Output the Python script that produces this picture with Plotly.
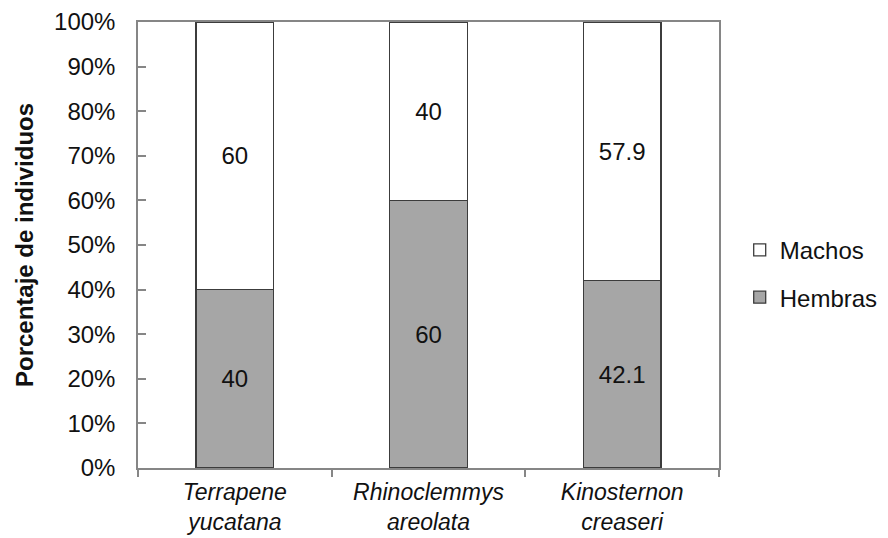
import plotly.graph_objects as go

# Sex ratio (%) per turtle species
species = ["<i>Terrapene<br>yucatana</i>", "<i>Rhinoclemmys<br>areolata</i>", "<i>Kinosternon<br>creaseri</i>"]
hembras = [40, 60, 42.1]
machos = [60, 40, 57.9]
y_ticks = list(range(0, 101, 10))

FONT = "Liberation Sans, Arial, sans-serif"
AXIS_GRAY = "#868686"
EDGE = "#3c3c3c"
FS = 24

fig = go.Figure()
fig.add_trace(go.Bar(
    x=species, y=hembras, name="Hembras", legendgroup="h", legendrank=2,
    marker=dict(color="#a6a6a6", line=dict(color=EDGE, width=1.3)),
    text=[f"{v:g}" for v in hembras], textposition="inside",
    insidetextanchor="middle", textangle=0,
    textfont=dict(size=FS, color="#111111", family=FONT),
))
fig.add_trace(go.Bar(
    x=species, y=machos, name="Machos", legendgroup="m", legendrank=1,
    marker=dict(color="#ffffff", line=dict(color=EDGE, width=1.3)),
    text=[f"{v:g}" for v in machos], textposition="inside",
    insidetextanchor="middle", textangle=0,
    textfont=dict(size=FS, color="#111111", family=FONT),
))

fig.update_layout(
    width=888, height=538,
    margin=dict(l=138, r=169, t=22, b=70),
    barmode="stack", bargap=0.6,
    paper_bgcolor="white", plot_bgcolor="white",
    font=dict(family=FONT, size=FS, color="#111111"),
    legend=dict(
        xref="container", yref="container",
        x=0.833, xanchor="left", y=0.491, yanchor="middle",
        traceorder="grouped", tracegroupgap=13,
        font=dict(size=FS, color="#111111", family=FONT),
        bgcolor="rgba(0,0,0,0)",
    ),
    showlegend=True,
)
fig.update_xaxes(
    automargin=False,
    showline=True, linecolor=AXIS_GRAY, linewidth=1.5, mirror=True,
    ticks="outside", tickson="boundaries", ticklen=7, tickcolor=AXIS_GRAY, tickwidth=1.5,
    tickfont=dict(size=23, color="#111111", family=FONT), ticklabelstandoff=3,
    showgrid=False, fixedrange=True,
)
fig.update_yaxes(
    automargin=False,
    range=[0, 100], tickvals=y_ticks, ticktext=[f"{t}%" for t in y_ticks],
    showline=True, linecolor=AXIS_GRAY, linewidth=1.5, mirror=True,
    ticks="inside", ticklen=8, tickcolor=AXIS_GRAY, tickwidth=1.5,
    tickfont=dict(size=FS, color="#111111", family=FONT), ticklabelstandoff=16,
    showgrid=False, zeroline=False,
    title=dict(text="<b>Porcentaje de individuos</b>", font=dict(size=FS, family=FONT, color="#111111"), standoff=14),
)

fig.write_html("out.html")
